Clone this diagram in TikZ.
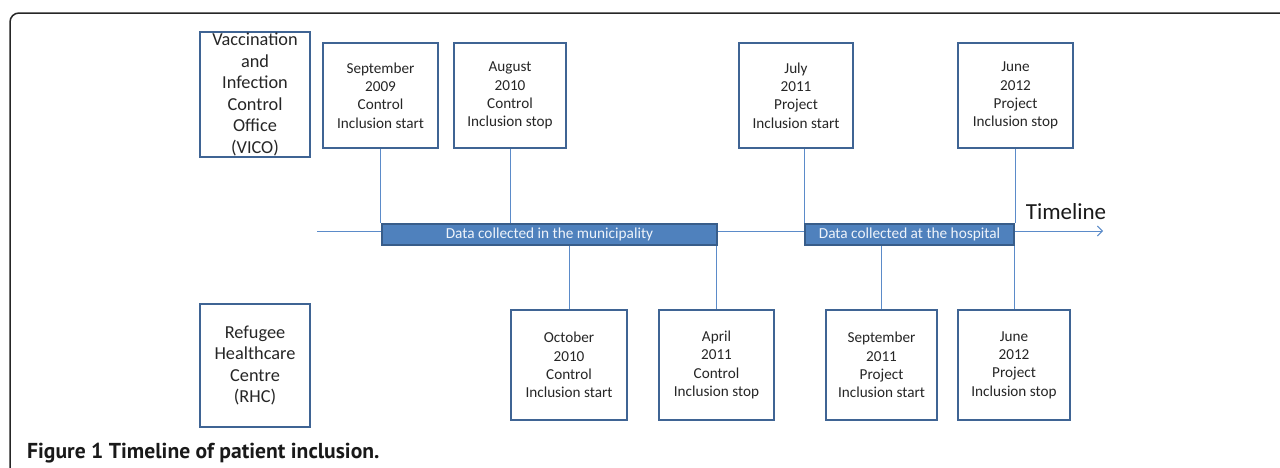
\documentclass[tikz,border=0pt]{standalone}
\usepackage{fontspec}
\setmainfont{Carlito}
\newfontfamily\capfont{PT Sans}
\usetikzlibrary{arrows.meta}
\definecolor{boxline}{HTML}{3F6494}
\definecolor{connc}{HTML}{5B8BC9}
\definecolor{barfill}{HTML}{4F81BD}
\definecolor{barline}{HTML}{385D8A}
\definecolor{bartext}{HTML}{EEF3FA}
\tikzset{
  evbox/.style={draw=boxline, line width=2.3pt, fill=white, align=center, inner sep=0pt,
    font=\fontsize{15.2}{18.3}\selectfont, text=black!85},
  sitebox/.style={evbox, font=\fontsize{18.3}{21.5}\selectfont},
  databar/.style={draw=barline, line width=1.8pt, fill=barfill, text=bartext,
    font=\fontsize{15.3}{17}\selectfont, inner sep=0pt},
  connline/.style={draw=connc, line width=0.9pt},
  frameline/.style={draw=black!85, line width=1.5pt, rounded corners=9pt},
}
\begin{document}
\begin{tikzpicture}[x=1pt,y=-1pt]
\useasboundingbox (0,0) rectangle (1280,467);
\clip (0,0) rectangle (1280,467);
\draw[frameline] (10,13) rectangle (1330,520);

% site boxes
\node[sitebox, minimum width=110pt, minimum height=125pt] (vico) at (255,94.5)
  {Vaccination\\and\\Infection\\Control\\Office\\(VICO)};
\node[sitebox, minimum width=110pt, minimum height=123pt] (rhc) at (255,365.5)
  {Refugee\\Healthcare\\Centre\\(RHC)};

% top event boxes
\node[evbox, minimum width=115pt, minimum height=105pt] (sep09) at (380.5,95.5)
  {September\\2009\\Control\\Inclusion start};
\node[evbox, minimum width=112pt, minimum height=105pt] (aug10) at (510,95.5)
  {August\\2010\\Control\\Inclusion stop};
\node[evbox, minimum width=114pt, minimum height=105pt] (jul11) at (796,95.5)
  {July\\2011\\Project\\Inclusion start};
\node[evbox, minimum width=115pt, minimum height=105pt] (jun12a) at (1015.5,95.5)
  {June\\2012\\Project\\Inclusion stop};

% bottom event boxes
\node[evbox, minimum width=116pt, minimum height=110pt] (oct10) at (569,365)
  {October\\2010\\Control\\Inclusion start};
\node[evbox, minimum width=115pt, minimum height=110pt] (apr11) at (716.5,365)
  {April\\2011\\Control\\Inclusion stop};
\node[evbox, minimum width=111pt, minimum height=110pt] (sep11) at (881.5,365)
  {September\\2011\\Project\\Inclusion start};
\node[evbox, minimum width=112pt, minimum height=110pt] (jun12b) at (1014,365)
  {June\\2012\\Project\\Inclusion stop};

% timeline
\coordinate (tl0) at (317,231);
\coordinate (tl1) at (1103,231);
\draw[connline, -{Straight Barb[length=5pt,width=10pt]}] (tl0) -- (tl1);
\node[font=\fontsize{23}{26}\selectfont, text=black!90] (tlabel) at (1066,212) {Timeline};

% data bars
\node[databar, minimum width=335pt, minimum height=21pt] (muni) at (549.5,234.5)
  {Data collected in the municipality};
\node[databar, minimum width=209pt, minimum height=21pt] (hosp) at (909.5,234.5)
  {Data collected at the hospital};

% connectors
\draw[connline] (sep09.south) -- (sep09.south |- muni.north);
\draw[connline] (aug10.south) -- (aug10.south |- muni.north);
\draw[connline] (hosp.north west |- jul11.south) -- (hosp.north west);
\draw[connline] (jun12a.south) -- (jun12a.south |- hosp.north);
\draw[connline] (oct10.north) -- (oct10.north |- muni.south);
\draw[connline] (apr11.north) -- (apr11.north |- muni.south);
\draw[connline] (sep11.north) -- (sep11.north |- hosp.south);
\draw[connline] (jun12b.north) -- (jun12b.north |- hosp.south);

% caption
\node[anchor=west, font=\capfont\bfseries\fontsize{21.6}{24}\selectfont, text=black!90, inner sep=0pt] (caption) at (27,453)
  {Figure 1 Timeline of patient inclusion.};
\end{tikzpicture}
\end{document}
